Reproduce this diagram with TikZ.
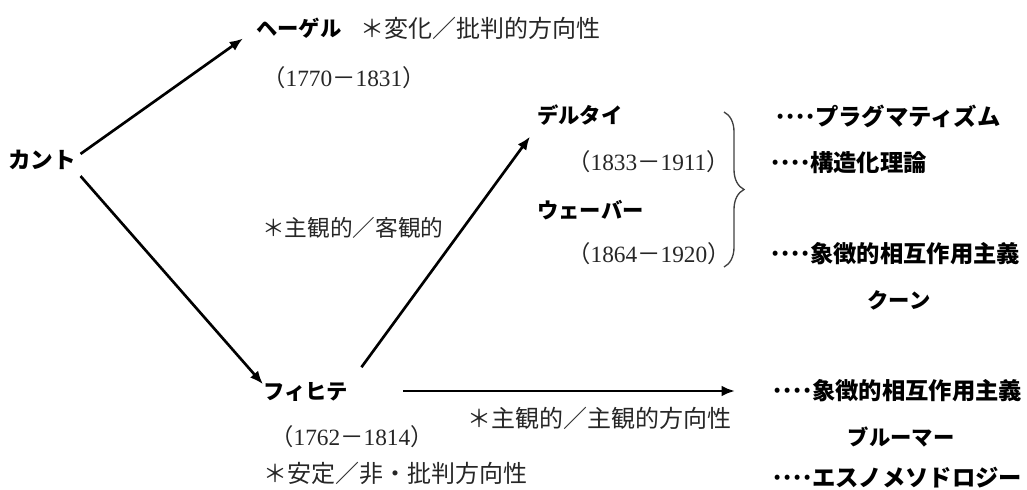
\documentclass[tikz,border=0pt]{standalone}
\usepackage{fontspec}
\setmainfont{Liberation Serif}
\newfontfamily\cjk{Noto Sans CJK JP}
\usetikzlibrary{arrows.meta,decorations.pathreplacing,calc}
\newcommand{\dd}{\makebox[7.5pt]{\cjk ·}}
\newcommand{\yrs}[2]{{\cjk （}#1{\cjk －}#2{\cjk ）}}
\tikzset{
  txt/.style={anchor=west,inner sep=0pt,text=black!85,font=\cjk\fontsize{18}{18}\selectfont},
  nm/.style={anchor=west,inner sep=0pt,text=black,font=\cjk\bfseries\fontsize{16}{16}\selectfont},
  yr/.style={anchor=west,inner sep=0pt,text=black!85,font=\fontsize{17.5}{17.5}\selectfont},
  rt/.style={anchor=west,inner sep=0pt,text=black,font=\cjk\bfseries\fontsize{17.5}{17.5}\selectfont},
  arr/.style={line width=2pt,-{Latex[length=10pt,width=8pt]}},
}
\begin{document}
\begin{tikzpicture}[x=0.75pt,y=-0.75pt]
\useasboundingbox (0,0) rectangle (1027,489);
\node[nm,font=\cjk\bfseries\fontsize{17}{17}\selectfont] (kant) at (8,160) {カント};
\node[nm] (hegel) at (256,28) {ヘーゲル};
\node[txt] (hnote) at (360,28) {＊変化／批判的方向性};
\node[yr] (hyear) at (262,78) {\yrs{1770}{1831}};
\node[txt,font=\cjk\fontsize{17}{17}\selectfont] (note2) at (262,228) {＊主観的／客観的};
\node[nm] (dilthey) at (537,115) {デルタイ};
\node[yr] (dyear) at (567,162) {\yrs{1833}{1911}};
\node[nm] (weber) at (537,210) {ウェーバー};
\node[yr] (wyear) at (567,254) {\yrs{1864}{1920}};
\node[rt] (r1) at (775,116) {\dd\dd\dd\dd{}プラグマティズム};
\node[rt] (r2) at (770,163) {\dd\dd\dd\dd{}構造化理論};
\node[rt] (r3) at (770,254) {\dd\dd\dd\dd{}象徴的相互作用主義};
\node[nm,anchor=center] (kuhn) at (899,300) {クーン};
\node[nm] (fichte) at (263,392) {フィヒテ};
\node[txt] (fnote) at (467,418) {＊主観的／主観的方向性};
\node[yr] (fyear) at (270,437) {\yrs{1762}{1814}};
\node[txt] (fnote2) at (263,473) {＊安定／非・批判方向性};
\node[rt] (r4) at (772,391) {\dd\dd\dd\dd{}象徴的相互作用主義};
\node[nm,anchor=center] (blumer) at (901,437) {ブルーマー};
\node[rt] (r5) at (772,478) {\dd\dd\dd\dd{}エスノメソドロジー};
\coordinate (bt) at (724,112);
\coordinate (bb) at (724,267);
\draw[arr] ($(kant.north east)+(4,4)$) -- ($(hegel.south west)+(-13,0)$);
\draw[arr] ($(kant.south east)+(4,6)$) -- ($(fichte.north west)+(0,2)$);
\draw[arr] ($(fichte.north east)+(13,-15)$) -- ($(dilthey.south west)+(-7,11)$);
\draw[arr] ($(fichte.east)+(55,-1)$) -- ($(r4.west)+(-37,0)$);
\draw[line width=1pt,black!75,decorate,decoration={brace,amplitude=15pt}] (bt) -- (bb);
\end{tikzpicture}
\end{document}
